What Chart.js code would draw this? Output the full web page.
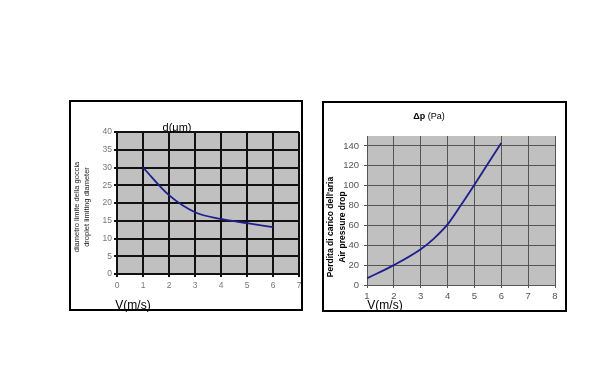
<!DOCTYPE html>
<html>
<head>
<meta charset="utf-8">
<script src="https://cdn.jsdelivr.net/npm/chart.js@4"></script>
<style>
body { margin: 0; background: #fff; width: 604px; height: 375px; position: relative; overflow: hidden; font-family: "Liberation Sans", Arial, sans-serif; }
.frame { position: absolute; border: 2px solid #000; background: #fff; }
.frame canvas { position: absolute; left: 0; top: 0; }
.txt { position: absolute; white-space: nowrap; color: #000; line-height: 1; transform: translate(-50%, -50%); }
.rot { transform: translate(-50%, -50%) rotate(-90deg); }
</style>
</head>
<body>
<div class="frame" style="left:69px;top:100px;width:230px;height:207px;">
  <canvas id="dropletChart" width="230" height="207"></canvas>
</div>
<div class="frame" style="left:322px;top:101px;width:241px;height:207px;">
  <canvas id="pressureChart" width="241" height="207"></canvas>
</div>

<!-- titles -->
<div class="txt" style="left:177px;top:127px;font-size:11px;">d(&mu;m)</div>
<div class="txt rot" style="left:77px;top:207px;font-size:7.5px;color:#222;">diametro limite della goccia</div>
<div class="txt rot" style="left:87px;top:207px;font-size:7.5px;color:#222;">droplet limiting diameter</div>
<div class="txt" style="left:133px;top:305px;font-size:12px;">V(m/s)</div>

<div class="txt" style="left:429px;top:116px;font-size:9px;"><b>&Delta;p</b> (Pa)</div>
<div class="txt rot" style="left:330px;top:227px;font-size:8.5px;font-weight:bold;">Perdita di carico dell'aria</div>
<div class="txt rot" style="left:342px;top:227px;font-size:8.5px;font-weight:bold;">Air pressure drop</div>
<div class="txt" style="left:385px;top:305px;font-size:12px;">V(m/s)</div>

<script>
// droplet limiting diameter vs air speed
const dropletV = [1, 2, 3, 4, 5, 6];
const dropletD = [30, 22.2, 17.4, 15.5, 14.3, 13.2];
const dropletXTicks = [0, 1, 2, 3, 4, 5, 6, 7];
const dropletYTicks = [0, 5, 10, 15, 20, 25, 30, 35, 40];

// air pressure drop vs air speed
const pressureV = [1, 2, 3, 3.5, 4, 4.5, 5, 5.5, 6];
const pressureDp = [6.7, 20, 36, 47, 61, 80.5, 101, 122, 143];
const pressureXTicks = [1, 2, 3, 4, 5, 6, 7, 8];
const pressureYTicks = [0, 20, 40, 60, 80, 100, 120, 140];

const plotBg = {
    id: 'plotBg',
    beforeDraw(chart, args, opts) {
        const { ctx, chartArea: a } = chart;
        ctx.save();
        ctx.fillStyle = opts.color;
        ctx.fillRect(a.left, a.top, a.width, a.height);
        ctx.restore();
    }
};

const toPoints = (xs, ys) => xs.map((x, i) => ({ x: x, y: ys[i] }));
const setTicks = list => s => { s.ticks = list.map(v => ({ value: v })); };

const makeChart = (canvas, cfg) => new Chart(canvas, {
    type: 'line',
    data: {
        datasets: [{
            data: cfg.points,
            borderColor: '#1e1e8e',
            borderWidth: 1.8,
            pointRadius: 0,
            fill: false,
            cubicInterpolationMode: 'monotone'
        }]
    },
    options: {
        responsive: false,
        animation: false,
        devicePixelRatio: 1,
        layout: { padding: cfg.padding },
        plugins: { legend: { display: false }, tooltip: { enabled: false }, plotBg: { color: '#c0c0c0' } },
        scales: {
            x: {
                type: 'linear', min: cfg.xTicks[0], max: cfg.xTicks[cfg.xTicks.length - 1],
                afterBuildTicks: setTicks(cfg.xTicks),
                ticks: { autoSkip: false, color: cfg.tickColor, font: { size: cfg.tickSize, family: 'Liberation Sans, Arial' }, padding: cfg.xPad, maxRotation: 0 },
                grid: { color: cfg.gridColor, lineWidth: cfg.gridWidth, tickLength: 3 },
                border: { color: cfg.gridColor, width: cfg.gridWidth },
                afterFit: s => { s.height = cfg.xHeight; s.paddingLeft = 0; s.paddingRight = 0; }
            },
            y: {
                min: 0, max: cfg.yMax,
                afterBuildTicks: setTicks(cfg.yTicks),
                ticks: { autoSkip: false, color: cfg.tickColor, font: { size: cfg.tickSize, family: 'Liberation Sans, Arial' }, padding: cfg.yPad },
                grid: { color: cfg.gridColor, lineWidth: cfg.gridWidth, tickLength: 3 },
                border: { color: cfg.gridColor, width: cfg.gridWidth },
                afterFit: s => { s.width = cfg.yWidth; s.paddingTop = 0; s.paddingBottom = 0; }
            }
        }
    },
    plugins: [plotBg]
});

makeChart(document.getElementById('dropletChart'), {
    points: toPoints(dropletV, dropletD),
    padding: { top: 30, right: 2, bottom: 0, left: 0 },
    xTicks: dropletXTicks, yTicks: dropletYTicks, yMax: 40,
    tickColor: '#777', tickSize: 8.5, xPad: 4, yPad: 2,
    gridColor: '#111', gridWidth: 2,
    xHeight: 35, yWidth: 46
});

makeChart(document.getElementById('pressureChart'), {
    points: toPoints(pressureV, pressureDp),
    padding: { top: 33, right: 10, bottom: 0, left: 0 },
    xTicks: pressureXTicks, yTicks: pressureYTicks, yMax: 150,
    tickColor: '#555', tickSize: 9.5, xPad: 3, yPad: 5,
    gridColor: '#555', gridWidth: 1,
    xHeight: 25, yWidth: 43
});
</script>
</body>
</html>
